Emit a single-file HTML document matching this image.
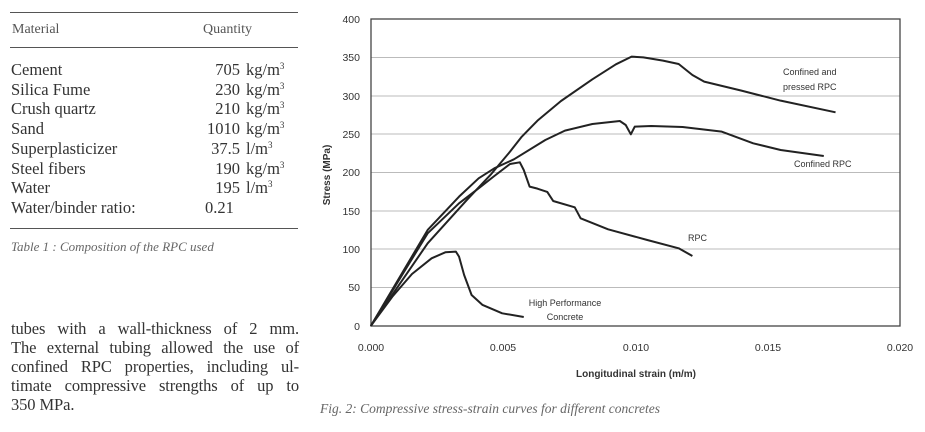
<!DOCTYPE html>
<html><head><meta charset="utf-8"><style>
body{margin:0;width:925px;height:432px;background:#fff;overflow:hidden;position:relative;font-family:"Liberation Serif",serif;color:#333}
.a{position:absolute;white-space:nowrap}
.r{font-size:16.5px;line-height:19.7px}
sup{font-size:9px;line-height:0;vertical-align:6px}
.j{position:absolute;left:11px;width:288px;font-size:16.5px;text-align:justify;text-align-last:justify;white-space:nowrap;letter-spacing:-0.1px}
</style></head><body>
<div class="a" style="left:10px;top:12px;width:288px;border-top:1.5px solid #555"></div>
<div class="a" style="left:10px;top:47px;width:288px;border-top:1.5px solid #555"></div>
<div class="a" style="left:10px;top:228px;width:288px;border-top:1.5px solid #555"></div>
<div class="a" style="left:12px;top:22px;font-size:14px;color:#555">Material</div>
<div class="a" style="left:203px;top:22px;font-size:14px;color:#555">Quantity</div>
<div class="a r" style="left:11px;top:60px">Cement<br>Silica Fume<br>Crush quartz<br>Sand<br>Superplasticizer<br>Steel fibers<br>Water<br>Water/binder ratio:</div>
<div class="a r" style="left:180px;top:60px;width:60px;text-align:right">705<br>230<br>210<br>1010<br>37.5<br>190<br>195</div>
<div class="a r" style="left:246px;top:60px">kg/m<sup>3</sup><br>kg/m<sup>3</sup><br>kg/m<sup>3</sup><br>kg/m<sup>3</sup><br>l/m<sup>3</sup><br>kg/m<sup>3</sup><br>l/m<sup>3</sup></div>
<div class="a r" style="left:205px;top:198px">0.21</div>
<div class="a" style="left:11px;top:239px;font-size:13px;font-style:italic;color:#666">Table 1 : Composition of the RPC used</div>
<div class="j" style="top:319px">tubes with a wall-thickness of 2 mm.</div>
<div class="j" style="top:338px">The external tubing allowed the use of</div>
<div class="j" style="top:357px">confined RPC properties, including ul-</div>
<div class="j" style="top:376px">timate compressive strengths of up to</div>
<div class="a" style="left:11px;top:395px;font-size:16.5px;letter-spacing:-0.1px">350 MPa.</div>
<div class="a" style="left:320px;top:401px;font-size:13.5px;font-style:italic;color:#666">Fig. 2: Compressive stress-strain curves for different concretes</div>
<svg class="a" style="left:0;top:0" width="925" height="432" font-family="Liberation Sans, sans-serif" font-size="10.5" fill="#333">
<g stroke="#bbb" stroke-width="1">
<line x1="371" x2="900" y1="57.5" y2="57.5"/><line x1="371" x2="900" y1="96" y2="96"/><line x1="371" x2="900" y1="134" y2="134"/><line x1="371" x2="900" y1="172.5" y2="172.5"/><line x1="371" x2="900" y1="211" y2="211"/><line x1="371" x2="900" y1="249" y2="249"/><line x1="371" x2="900" y1="287.5" y2="287.5"/>
</g>
<rect x="371" y="19" width="529" height="307" fill="none" stroke="#444" stroke-width="1.3"/>
<g text-anchor="end">
<text x="360" y="23">400</text><text x="360" y="61">350</text><text x="360" y="100">300</text><text x="360" y="138">250</text><text x="360" y="176">200</text><text x="360" y="215">150</text><text x="360" y="253">100</text><text x="360" y="291">50</text><text x="360" y="330">0</text>
</g>
<g text-anchor="middle">
<text x="371" y="351">0.000</text><text x="503" y="351">0.005</text><text x="636" y="351">0.010</text><text x="768" y="351">0.015</text><text x="900" y="351">0.020</text>
<text x="636" y="377" font-weight="bold" font-size="10">Longitudinal strain (m/m)</text>
<text transform="translate(330,175) rotate(-90)" font-weight="bold" font-size="10">Stress (MPa)</text>
<text x="565" y="306" font-size="9">High Performance</text><text x="565" y="320" font-size="9">Concrete</text>
</g>
<g font-size="9">
<text x="783" y="75">Confined and</text><text x="783" y="90">pressed RPC</text>
<text x="794" y="167">Confined  RPC</text>
<text x="688" y="241">RPC</text>
</g>
<g transform="translate(310,0) scale(0.3922,0.3333)" fill="none" stroke="#222" stroke-width="2" stroke-linejoin="round">
<path vector-effect="non-scaling-stroke" d="M155,978 L300,730 L400,600 L460,525 L510,455 L540,410 L580,362 L640,303 L720,238 L780,193 L820,170 L850,172 L900,182 L940,192 L975,225 L1005,245 L1100,272 L1200,302 L1340,337"/>
<path vector-effect="non-scaling-stroke" d="M155,978 L300,690 L380,590 L430,535 L470,505 L520,478 L600,420 L650,392 L720,372 L790,363 L805,375 L818,403 L828,380 L870,378 L950,381 L1050,395 L1130,430 L1200,450 L1310,468"/>
<path vector-effect="non-scaling-stroke" d="M155,978 L300,700 L380,610 L430,565 L470,528 L510,492 L535,487 L545,510 L560,560 L580,566 L605,576 L620,603 L675,622 L690,655 L760,688 L860,720 L940,745 L975,768"/>
<path vector-effect="non-scaling-stroke" d="M155,978 L210,890 L260,822 L310,775 L345,757 L372,755 L380,770 L393,825 L412,885 L440,915 L490,940 L545,951"/>
</g>
</svg>
</body></html>
